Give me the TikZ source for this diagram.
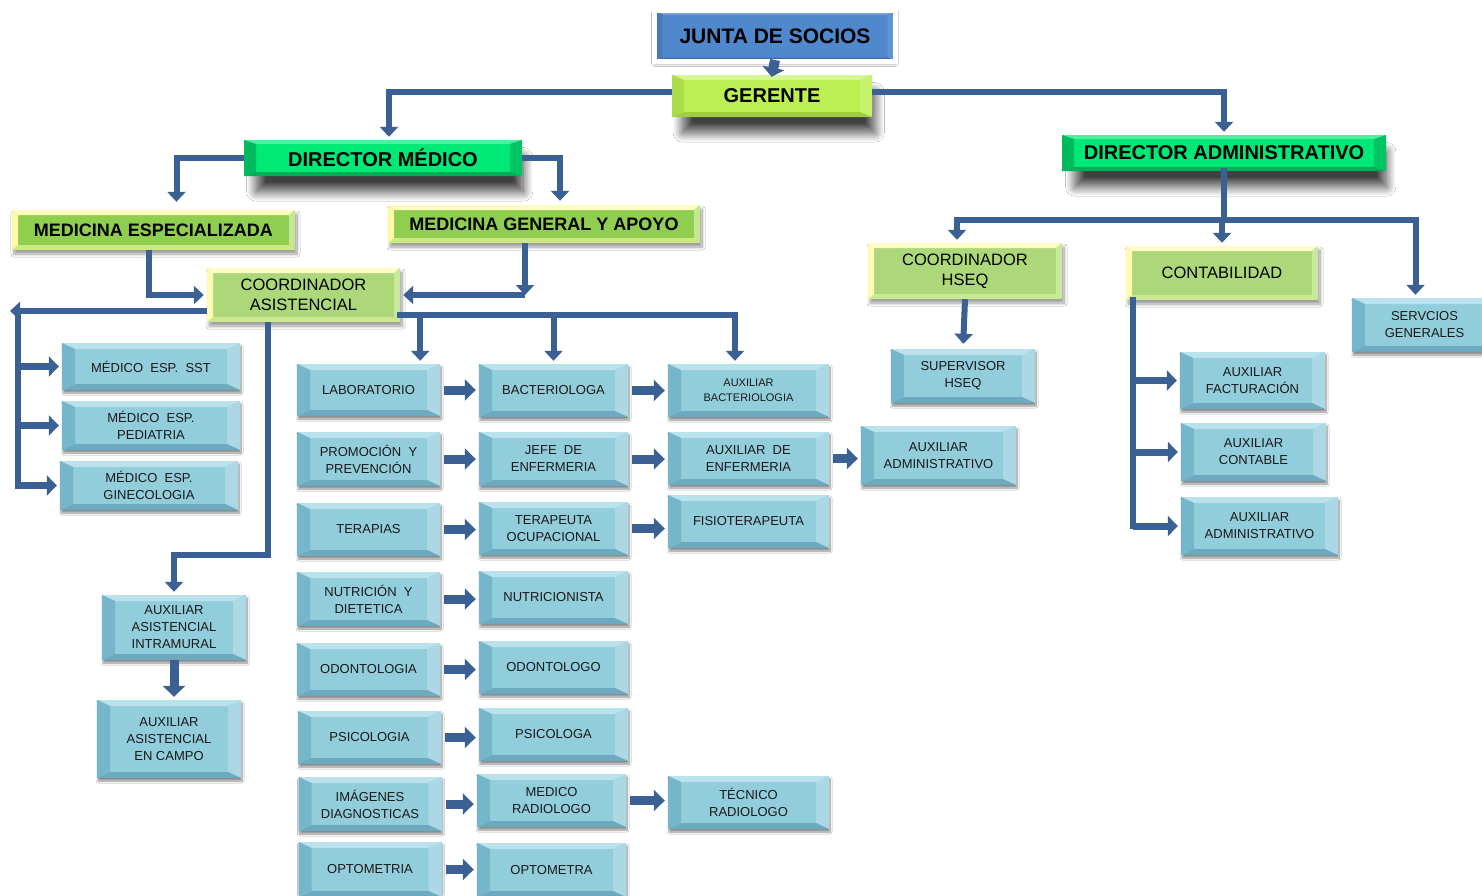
\documentclass[tikz,border=0pt]{standalone}
\usepackage{fontspec}
\setmainfont{Liberation Sans}
\usetikzlibrary{arrows.meta,shadows.blur}
\definecolor{linkblue}{RGB}{58,96,148}
\definecolor{boxblue}{RGB}{146,205,220}
\definecolor{bvtop}{RGB}{186,226,237}
\definecolor{bvleft}{RGB}{118,182,203}
\definecolor{bvright}{RGB}{172,216,229}
\definecolor{bvbot}{RGB}{110,170,191}
\definecolor{juntablue}{RGB}{80,136,206}
\definecolor{dirgreen}{RGB}{0,232,118}
\definecolor{gergreen}{RGB}{188,240,82}
\definecolor{medgreen}{RGB}{143,206,78}
\definecolor{coordgreen}{RGB}{172,216,122}
\tikzset{
  bevel/.style n args={6}{path picture={
    \fill[#3] (path picture bounding box.north west) -- (path picture bounding box.north east)
      -- ([shift={(-#1,-#2)}]path picture bounding box.north east) -- ([shift={(#1,-#2)}]path picture bounding box.north west) -- cycle;
    \fill[#4] (path picture bounding box.north east) -- (path picture bounding box.south east)
      -- ([shift={(-#1,#2)}]path picture bounding box.south east) -- ([shift={(-#1,-#2)}]path picture bounding box.north east) -- cycle;
    \fill[#5] (path picture bounding box.south east) -- (path picture bounding box.south west)
      -- ([shift={(#1,#2)}]path picture bounding box.south west) -- ([shift={(-#1,#2)}]path picture bounding box.south east) -- cycle;
    \fill[#6] (path picture bounding box.south west) -- (path picture bounding box.north west)
      -- ([shift={(#1,-#2)}]path picture bounding box.north west) -- ([shift={(#1,#2)}]path picture bounding box.south west) -- cycle;
  }},
  bigshadow/.style={blur shadow={shadow xshift=7pt, shadow yshift=-17pt, shadow scale=0.96,
    shadow blur radius=10pt, shadow blur steps=30, shadow opacity=75}},
  bluebox/.style={rectangle, fill=boxblue, align=center, inner sep=0pt,
    bevel={13pt}{6pt}{bvtop}{bvright}{bvbot}{bvleft},
    blur shadow={shadow xshift=1pt, shadow yshift=-3pt, shadow blur radius=2pt, shadow blur steps=10, shadow opacity=45},
    font=\fontsize{13pt}{17pt}\selectfont, text=black!90},
  col1/.style={bluebox, minimum width=143, minimum height=53},
  col2/.style={bluebox, minimum width=149, minimum height=53},
  col3/.style={bluebox, minimum width=161, minimum height=53},
  dirbox/.style={rectangle, fill=dirgreen, align=center, inner sep=0pt, minimum height=36,
    bevel={12pt}{4pt}{dirgreen!70!white}{dirgreen!85!black}{dirgreen!75!black}{dirgreen!80!black},
    bigshadow, font=\bfseries\fontsize{20pt}{24pt}\selectfont},
  medbox/.style={rectangle, fill=medgreen, align=center, inner sep=0pt,
    bevel={6pt}{5pt}{yellow!25!white}{yellow!50!green!45!white}{yellow!60!green!50!white}{yellow!35!white},
    blur shadow={shadow xshift=2pt, shadow yshift=-4pt, shadow blur radius=3pt, shadow blur steps=12, shadow opacity=40},
    font=\bfseries\fontsize{18pt}{22pt}\selectfont},
  coordbox/.style={rectangle, fill=coordgreen, align=center, inner sep=0pt,
    bevel={6pt}{5pt}{yellow!22!white}{yellow!45!green!40!white}{yellow!55!green!45!white}{yellow!30!white},
    blur shadow={shadow xshift=2pt, shadow yshift=-4pt, shadow blur radius=3pt, shadow blur steps=12, shadow opacity=40},
    font=\fontsize{16.5pt}{20pt}\selectfont},
}
\begin{document}
\begin{tikzpicture}[x=1pt,y=-1pt,
    conn/.style={draw=linkblue, line width=6pt, -{Triangle[width=18pt,length=10pt]}, shorten >=3pt},
    bus/.style={draw=linkblue, line width=6pt, line cap=rect},
    rowarrow/.style={draw=linkblue, line width=9pt, -{Triangle[width=21pt,length=11pt]}, shorten <=4pt, shorten >=3pt}]
  \fill[white] (0,0) rectangle (1482,895);
  \useasboundingbox (0,0) rectangle (1482,895);
  % direccion
  \node[rectangle, fill=juntablue, draw=white, line width=5pt, minimum width=241, minimum height=51,
    bevel={8pt}{4pt}{juntablue!75!white}{juntablue!90!white}{juntablue!80!black}{juntablue!90!black},
    blur shadow={shadow xshift=0pt, shadow yshift=-2pt, shadow blur radius=3pt, shadow blur steps=12, shadow opacity=50},
    font=\bfseries\fontsize{21pt}{25pt}\selectfont] (junta) at (775,36) {JUNTA DE SOCIOS};
  \node[rectangle, fill=gergreen, minimum width=200, minimum height=42, inner sep=0pt,
    bevel={12pt}{5pt}{gergreen!60!white}{gergreen!85!white}{gergreen!85!black}{gergreen!92!black},
    bigshadow, font=\bfseries\fontsize{20pt}{24pt}\selectfont] (ger) at (772,96) {GERENTE};
  \node[dirbox, minimum width=278] (dmed) at (383,158) {DIRECTOR MÉDICO};
  \node[dirbox, minimum width=324] (dadm) at (1224,153) {DIRECTOR ADMINISTRATIVO};
  % area medica
  \node[medbox, minimum width=283, minimum height=40] (mesp) at (153.5,230) {MEDICINA ESPECIALIZADA};
  \node[medbox, minimum width=312, minimum height=38] (mgen) at (544,224) {MEDICINA GENERAL Y APOYO};
  \node[coordbox, minimum width=193, minimum height=54] (coord) at (303.5,295) {COORDINADOR\\ASISTENCIAL};
  \node[bluebox, minimum width=178, minimum height=47] (sst) at (151,366.5) {MÉDICO\ \ ESP.\ \ SST};
  \node[bluebox, minimum width=178, minimum height=49] (ped) at (151,425.5) {MÉDICO\ \ ESP.\\PEDIATRIA};
  \node[bluebox, minimum width=178, minimum height=49] (gin) at (149,485.5) {MÉDICO\ \ ESP.\\GINECOLOGIA};
  \node[bluebox, minimum width=144, minimum height=65] (intra) at (174,627.5) {AUXILIAR\\ASISTENCIAL\\INTRAMURAL};
  \node[bluebox, minimum width=144, minimum height=78] (campo) at (169,739) {AUXILIAR\\ASISTENCIAL\\EN CAMPO};
  \node[col1, minimum height=52] (lab) at (368.5,390) {LABORATORIO};
  \node[col1, minimum height=54] (prom) at (368.5,459) {PROMOCIÓN\ \ Y\\PREVENCIÓN};
  \node[col1] (terp) at (368.5,529.5) {TERAPIAS};
  \node[col1, minimum height=54] (nutr) at (368.5,599) {NUTRICIÓN\ \ Y\\DIETETICA};
  \node[col1] (odon) at (368.5,669.5) {ODONTOLOGIA};
  \node[col1] (psic) at (369.5,737.5) {PSICOLOGIA};
  \node[col1, minimum height=54] (imag) at (370,804) {IMÁGENES\\DIAGNOSTICAS};
  \node[col1, minimum height=55] (opt) at (370,869.5) {OPTOMETRIA};
  \node[col2] (bact) at (553.5,390.5) {BACTERIOLOGA};
  \node[col2, minimum height=54] (jefe) at (553.5,459) {JEFE\ \ DE\\ENFERMERIA};
  \node[col2] (tocu) at (553.5,528.5) {TERAPEUTA\\OCUPACIONAL};
  \node[col2] (ntri) at (553.5,597.5) {NUTRICIONISTA};
  \node[col2] (odlg) at (553.5,667.5) {ODONTOLOGO};
  \node[col2] (pslg) at (553.5,734.5) {PSICOLOGA};
  \node[col2] (medr) at (551.5,800.5) {MEDICO\\RADIOLOGO};
  \node[col2, minimum height=54] (optm) at (551.5,870) {OPTOMETRA};
  \node[col3, font=\fontsize{11pt}{15pt}\selectfont] (auxb) at (748.5,390.5) {AUXILIAR\\BACTERIOLOGIA};
  \node[col3] (auxe) at (748.5,458.5) {AUXILIAR\ \ DE\\ENFERMERIA};
  \node[col3] (fisio) at (748.5,521.5) {FISIOTERAPEUTA};
  \node[col3] (tecr) at (748.5,802.5) {TÉCNICO\\RADIOLOGO};
  \node[bluebox, minimum width=155, minimum height=59] (adm1) at (938.5,455.5) {AUXILIAR\\ADMINISTRATIVO};
  % area administrativa
  \node[coordbox, minimum width=194, minimum height=56] (hseq) at (965,271) {COORDINADOR\\HSEQ};
  \node[coordbox, minimum width=192, minimum height=54] (cont) at (1222,273) {CONTABILIDAD};
  \node[bluebox, minimum width=145, minimum height=54] (serv) at (1424.5,325) {SERVCIOS\\GENERALES};
  \node[bluebox, minimum width=144, minimum height=54] (sup) at (963,376) {SUPERVISOR\\HSEQ};
  \node[bluebox, minimum width=145, minimum height=57] (fact) at (1252.5,380.5) {AUXILIAR\\FACTURACIÓN};
  \node[bluebox, minimum width=145, minimum height=58] (contab) at (1253.5,452) {AUXILIAR\\CONTABLE};
  \node[bluebox, minimum width=157, minimum height=58] (adm2) at (1259.5,526) {AUXILIAR\\ADMINISTRATIVO};
  % conectores superiores
  \draw[conn, line width=10pt, -{Triangle[width=22pt,length=9pt]}, shorten >=-2pt] ([yshift=4pt]junta.south) -- (ger.north);
  \coordinate (dmedtop) at ([xshift=6pt]dmed.north);
  \draw[conn] ([yshift=4pt]ger.west) -| (dmedtop);
  \draw[conn] ([yshift=4pt]ger.east) -| (dadm.north);
  \coordinate (mesptop) at ([xshift=23pt]mesp.north);
  \coordinate (mgentop) at ([xshift=16pt]mgen.north);
  \draw[conn, shorten >=8pt] (dmed.west) -| (mesptop);
  \draw[conn, shorten >=4pt] (dmed.east) -| (mgentop);
  \coordinate (mespbot) at ([xshift=-5pt]mesp.south);
  \coordinate (mgenbot) at ([xshift=-19pt]mgen.south);
  \draw[conn] (mespbot) |- (coord.west);
  \draw[conn, shorten >=0pt] (mgenbot) -- (mgenbot |- coord.east);
  \draw[conn] (mgenbot |- coord.east) -- (coord.east);
  % coordinador asistencial
  \coordinate (lbus) at (18,311);
  \coordinate (lend) at (10,311);
  \draw[conn, shorten >=0pt] ([yshift=-16pt]coord.west) -- (lend);
  \draw[bus] (lbus) -- (lbus |- gin.west);
  \draw[conn, line width=7pt, -{Triangle[width=20pt,length=10pt]}] (lbus |- sst.west) -- (sst.west);
  \draw[conn, line width=7pt, -{Triangle[width=20pt,length=10pt]}] (lbus |- ped.west) -- (ped.west);
  \draw[conn, line width=7pt, -{Triangle[width=20pt,length=10pt]}] (lbus |- gin.west) -- (gin.west);
  \coordinate (cbend) at (268,555);
  \draw[conn] (coord.south -| cbend) -- (cbend) -| (intra.north);
  \draw[conn, line width=9pt, -{Triangle[width=22pt,length=11pt]}] (intra.south) -- (intra.south |- campo.north);
  \coordinate (rbus) at (735,315);
  \coordinate (labtop) at ([xshift=-20pt]lab.north east);
  \draw[bus] ([yshift=-20pt]coord.east) -- (rbus);
  \draw[conn] (labtop |- rbus) -- (labtop);
  \draw[conn] (bact.north |- rbus) -- (bact.north);
  \draw[conn] (rbus) -- (rbus |- auxb.north);
  % filas
  \draw[rowarrow] (lab.east) -- (lab.east -| bact.west);
  \draw[rowarrow] (prom.east) -- (prom.east -| jefe.west);
  \draw[rowarrow] (terp.east) -- (terp.east -| tocu.west);
  \draw[rowarrow] (nutr.east) -- (nutr.east -| ntri.west);
  \draw[rowarrow] (odon.east) -- (odon.east -| odlg.west);
  \draw[rowarrow] (psic.east) -- (psic.east -| pslg.west);
  \draw[rowarrow] (imag.east) -- (imag.east -| medr.west);
  \draw[rowarrow] (opt.east) -- (opt.east -| optm.west);
  \draw[rowarrow] (bact.east) -- (bact.east -| auxb.west);
  \draw[rowarrow] (jefe.east) -- (jefe.east -| auxe.west);
  \draw[rowarrow] (tocu.east) -- (tocu.east -| fisio.west);
  \draw[rowarrow] (medr.east) -- (medr.east -| tecr.west);
  \draw[rowarrow] (auxe.east) -- (auxe.east -| adm1.west);
  % director administrativo
  \coordinate (abus) at (1222,220);
  \coordinate (hseqtop) at ([xshift=-8pt]hseq.north);
  \coordinate (servtop) at ([xshift=-9pt]serv.north);
  \draw[bus] (dadm.south) -- (dadm.south |- abus);
  \draw[bus] (hseqtop |- abus) -- (servtop |- abus);
  \draw[conn] (hseqtop |- abus) -- (hseqtop);
  \draw[conn] (cont.north |- abus) -- (cont.north);
  \draw[conn] (servtop |- abus) -- (servtop);
  \draw[conn, shorten >=5pt] (hseq.south) -- (sup.north);
  \coordinate (cbus) at ([xshift=7pt]cont.south west);
  \draw[bus] (cbus) -- (cbus |- adm2.west);
  \draw[conn, line width=7pt, -{Triangle[width=20pt,length=10pt]}] (cbus |- fact.west) -- (fact.west);
  \draw[conn, line width=7pt, -{Triangle[width=20pt,length=10pt]}] (cbus |- contab.west) -- (contab.west);
  \draw[conn, line width=7pt, -{Triangle[width=20pt,length=10pt]}] (cbus |- adm2.west) -- (adm2.west);
\end{tikzpicture}
\end{document}
